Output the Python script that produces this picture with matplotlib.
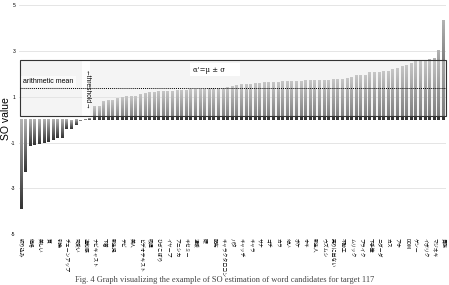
import matplotlib
matplotlib.use("Agg")
import matplotlib.pyplot as plt
import numpy as np
from matplotlib.patches import Rectangle

# SO value of each word candidate, sorted ascending
so_values = [
    -3.90, -2.30, -1.14, -1.10, -1.05, -1.01, -0.97, -0.90, -0.82, -0.79,
    -0.41, -0.39, -0.24, -0.04, 0.02, 0.05, 0.59, 0.61, 0.82, 0.83,
    0.84, 0.92, 1.00, 1.02, 1.03, 1.04, 1.10, 1.14, 1.18, 1.21,
    1.23, 1.24, 1.25, 1.26, 1.27, 1.28, 1.30, 1.32, 1.33, 1.34,
    1.35, 1.36, 1.37, 1.38, 1.39, 1.41, 1.48, 1.51, 1.53, 1.55,
    1.56, 1.58, 1.60, 1.62, 1.63, 1.64, 1.65, 1.66, 1.67, 1.68,
    1.69, 1.70, 1.71, 1.71, 1.72, 1.72, 1.73, 1.74, 1.75, 1.76,
    1.77, 1.80, 1.84, 1.92, 1.94, 1.95, 2.06, 2.07, 2.08, 2.12,
    2.13, 2.20, 2.26, 2.34, 2.36, 2.45, 2.54, 2.60, 2.61, 2.66,
    2.67, 3.03, 4.35,
]

# only every other word is labelled on the axis
word_labels = [
    "絞り込み", "価格", "美しい", "質", "引換", "チェーンアップ", "可愛い", "違和感",
    "ナビキャスト", "下着", "新生児", "テビ", "美人", "ビデオテキスト", "吸湿",
    "ひざこぼり", "イヤープ", "アニシカ", "キセミー", "温暖", "硬", "配布",
    "キャラクタロコン", "パタ", "キャッチ", "キャラ", "サナ", "ゴチ", "カラ", "幼い",
    "ボケ", "ホキ", "新生人", "ウズムシ", "売りに出ない", "不動工", "ムリック",
    "プライク", "下手筆", "ニダーダ", "カス", "アホ", "DOM", "ゲンー", "イボリク",
    "マジネキ", "貴族",
]

mean_value = 1.39
sigma = 1.22
y_ticks = [-5, -3, -1, 1, 3, 5]

fig = plt.figure(figsize=(4.49, 2.85), dpi=100)
ax = fig.add_axes([0.0417, 0.178, 0.951, 0.8045])

x = np.arange(len(so_values))
bars = ax.bar(x, so_values, width=0.64, color="none", edgecolor="none")

# vertical gradient on every bar: light at the top, dark at the bottom
grad = np.linspace(0, 1, 256).reshape(-1, 1)
for bar in bars:
    x0, w = bar.get_x(), bar.get_width()
    y0, h = bar.get_y(), bar.get_height()
    lo, hi = min(y0, y0 + h), max(y0, y0 + h)
    ax.imshow(grad, cmap="gray", vmin=-0.4, vmax=1.6, origin="lower",
              extent=(x0, x0 + w, lo, hi), aspect="auto", zorder=2)

ax.set_xlim(-0.5, len(so_values) - 0.5)
ax.set_ylim(-5, 5)

# alpha' = mu +/- sigma band
band_lo, band_hi = mean_value - sigma, mean_value + sigma
ax.add_patch(Rectangle((-0.25, band_lo), len(so_values) - 0.15, band_hi - band_lo,
                       facecolor="#e4e4e4", alpha=0.4, edgecolor="none", zorder=3))
ax.add_patch(Rectangle((13.2, band_lo), 1.8, band_hi - band_lo,
                       facecolor="white", alpha=0.85, edgecolor="none", zorder=3.5))
ax.add_patch(Rectangle((-0.25, band_lo), len(so_values) - 0.15, band_hi - band_lo,
                       fill=False, edgecolor="#333333", lw=0.8, zorder=4, clip_on=False))
ax.hlines(mean_value, -0.25, len(so_values) - 0.4, colors="black", lw=0.7,
          linestyles=(0, (1, 1)), zorder=4)

ax.text(0.45, 1.68, "arithmetic mean", fontsize=5, family="Liberation Sans",
        va="center", ha="left", zorder=5,
        bbox=dict(facecolor="white", edgecolor="none", alpha=0.6, pad=1.5))
ax.add_patch(Rectangle((36.9, 1.9), 10.9, 0.57, facecolor="white",
                       edgecolor="none", zorder=4.5))
ax.text(37.4, 2.18, "α'=μ ± σ", fontsize=5, family="DejaVu Serif",
        va="center", ha="left", zorder=5)
ax.text(14.1, 1.3, "←threshold→", fontsize=4.8, family="Liberation Sans",
        rotation=270, va="center", ha="center", zorder=5)

ax.set_yticks(y_ticks)
ax.set_yticklabels([str(t) for t in y_ticks], fontsize=3.6, family="Liberation Sans")
ax.yaxis.grid(True, color="#e0e0e0", lw=0.6)
ax.set_axisbelow(True)

ax.set_xticks(x[::2])
ax.set_xticklabels(word_labels, rotation=270, fontsize=3.5,
                   family=["Noto Sans CJK JP", "DejaVu Sans"], va="top", ha="center")
ax.tick_params(length=0, pad=2.5)
for s in ax.spines.values():
    s.set_visible(False)

fig.text(0.0135, 0.585, "SO value", rotation=90, fontsize=7.5,
         family="Liberation Sans", va="center", ha="center")

fig.text(0.5, 0.016, "Fig. 4 Graph visualizing the example of SO estimation of word candidates for target 117",
         fontsize=6, family="Liberation Serif", color="#444444", ha="center", va="center")

fig.savefig("out.png", dpi=100)
